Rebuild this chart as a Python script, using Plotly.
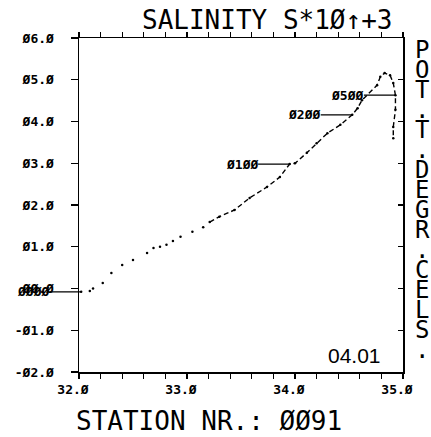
import plotly.graph_objects as go

# ---- data ----
salinity = [32.02, 32.10, 32.13, 32.22, 32.30, 32.40, 32.50, 32.63, 32.69, 32.75,
            32.81, 32.87, 32.94, 33.05, 33.15, 33.21, 33.30, 33.44, 33.58, 33.74,
            33.86, 33.95, 34.00, 34.11, 34.20, 34.30, 34.42, 34.53, 34.58, 34.62,
            34.76, 34.79, 34.83, 34.88, 34.91, 34.93, 34.93, 34.91, 34.91]
temperature = [-0.08, -0.06, 0.00, 0.13, 0.37, 0.56, 0.68, 0.85, 0.97, 1.00,
               1.05, 1.14, 1.24, 1.36, 1.47, 1.59, 1.72, 1.88, 2.17, 2.43,
               2.67, 2.98, 3.00, 3.25, 3.48, 3.72, 3.92, 4.16, 4.32, 4.51,
               4.87, 5.07, 5.16, 5.11, 4.92, 4.63, 4.28, 3.87, 3.60]

depth_labels = ["ØØØØ", "Ø1ØØ", "Ø2ØØ", "Ø5ØØ"]
depth_S = [32.02, 33.95, 34.53, 34.93]
depth_T = [-0.08, 2.98, 4.16, 4.63]

x_tickvals = [32.0, 32.2, 32.4, 32.6, 32.8, 33.0, 33.2, 33.4, 33.6, 33.8, 34.0,
              34.2, 34.4, 34.6, 34.8, 35.0]
x_ticktext = ["32.Ø", "", "", "", "", "33.Ø", "", "", "", "", "34.Ø",
              "", "", "", "", "35.Ø"]
y_tickvals = [6, 5, 4, 3, 2, 1, 0, -1, -2]
y_ticktext = ["Ø6.Ø", "Ø5.Ø", "Ø4.Ø", "Ø3.Ø", "Ø2.Ø", "Ø1.Ø", "ØØ.Ø", "-Ø1.Ø", "-Ø2.Ø"]

title_text = "SALINITY S*1Ø↑+3"
bottom_text = "STATION NR.: ØØ91"
station_text = "04.01"
right_label = "POT.T.DEGR.CELS."

MONO = "DejaVu Sans Mono"
tick_font = dict(family=MONO, size=13, color="black", weight="bold")

W, H = 431, 437
PL, PR, PT, PB = 79, 403, 38, 372
PW, PH = PR - PL, PB - PT


def px_x(px):
    return (px - PL) / PW


def px_y(py):
    return (PB - py) / PH


fig = go.Figure()

fig.add_trace(go.Scatter(x=salinity, y=temperature, mode="markers",
                         marker=dict(size=2.5, color="black"),
                         hoverinfo="skip", showlegend=False))
k = 15
fig.add_trace(go.Scatter(x=salinity[k:], y=temperature[k:], mode="lines",
                         line=dict(color="black", width=1.4, dash="5px,3px"),
                         hoverinfo="skip", showlegend=False))
fig.add_trace(go.Scatter(x=salinity, y=temperature, mode="markers", yaxis="y2",
                         marker=dict(size=1, opacity=0), hoverinfo="skip",
                         showlegend=False))

annotations = []
for lab, s, t in zip(depth_labels, depth_S, depth_T):
    annotations.append(dict(x=s, y=t, xref="x", yref="y", text=lab,
                            showarrow=True, arrowhead=0, arrowwidth=1.2,
                            arrowcolor="black", ax=-48, ay=0,
                            font=tick_font, borderpad=0))

annotations.append(dict(x=px_x(267), y=px_y(20), xref="paper", yref="paper",
                        xanchor="center", yanchor="middle",
                        text=title_text, showarrow=False,
                        font=dict(family=MONO, size=26, color="black")))
annotations.append(dict(x=px_x(209), y=px_y(421), xref="paper", yref="paper",
                        xanchor="center", yanchor="middle",
                        text=bottom_text, showarrow=False,
                        font=dict(family=MONO, size=26, color="black")))
annotations.append(dict(x=px_x(383), y=px_y(355), xref="paper", yref="paper",
                        xanchor="right", yanchor="middle", text=station_text,
                        showarrow=False,
                        font=dict(family="Liberation Sans", size=21, color="black")))
for i, ch in enumerate(right_label):
    py = 50 + 20 * i
    annotations.append(dict(x=px_x(422), y=px_y(py), xref="paper",
                            yref="paper", xanchor="center", yanchor="middle",
                            text=ch, showarrow=False,
                            font=dict(family=MONO, size=24, color="black")))

fig.update_layout(
    width=W, height=H,
    margin=dict(l=PL, r=W - PR, t=PT, b=H - PB),
    paper_bgcolor="white", plot_bgcolor="white",
    showlegend=False,
    annotations=annotations,
    xaxis=dict(range=[32, 35], tickvals=x_tickvals, ticktext=x_ticktext,
               ticks="outside", ticklen=5, tickcolor="black", tickwidth=1.2,
               showline=True, linecolor="black", linewidth=1.5, mirror="ticks",
               showgrid=False, zeroline=False, tickfont=tick_font,
               ticklabelshift=-6),
    yaxis=dict(range=[-2, 6], tickvals=y_tickvals, ticktext=y_ticktext,
               ticks="outside", ticklen=7, tickcolor="black", tickwidth=1.2,
               showline=True, linecolor="black", linewidth=1.5, mirror=True,
               showgrid=False, zeroline=False, tickfont=tick_font,
               ticklabelstandoff=14),
    yaxis2=dict(range=[-2, 6], overlaying="y", side="right",
                tickvals=y_tickvals, ticks="inside", ticklen=5, tickcolor="black",
                tickwidth=1.2, showticklabels=False, showline=False,
                showgrid=False, zeroline=False),
)

fig.write_html(
    "out.html",
    config={"displayModeBar": False, "staticPlot": True},
    post_script="document.body.style.margin='0';document.body.style.overflow='hidden';",
)
